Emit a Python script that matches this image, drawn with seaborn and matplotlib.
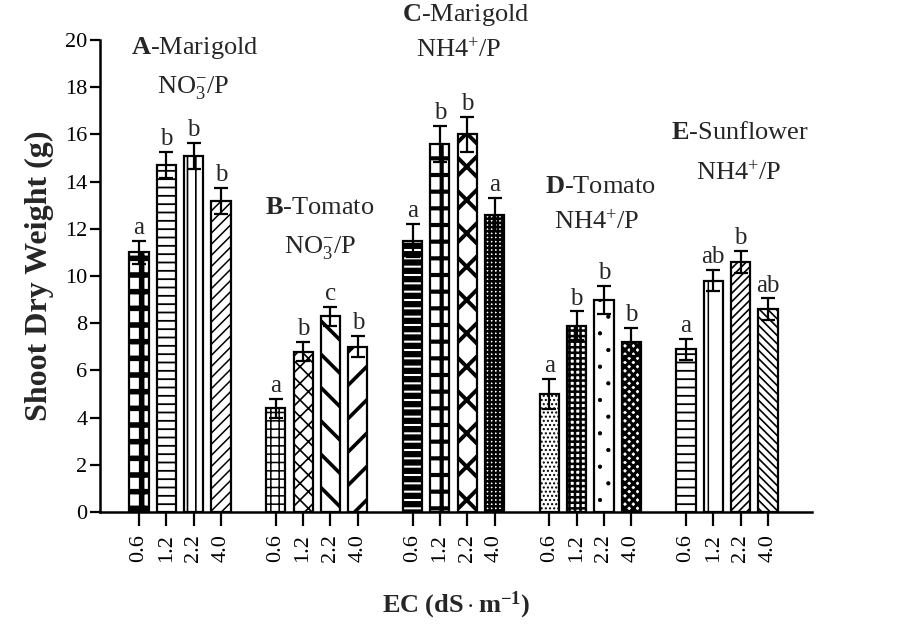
import numpy as np
import pandas as pd
import matplotlib
matplotlib.use("Agg")
import matplotlib.pyplot as plt
import seaborn as sns

# Values
ec_levels = ["0.6", "1.2", "2.2", "4.0"]
groups = ["A", "B", "C", "D", "E"]

a_mean = [11.0, 14.7, 15.1, 13.2]
a_err = [0.5, 0.55, 0.55, 0.55]
b_mean = [4.4, 6.8, 8.3, 7.0]
b_err = [0.4, 0.4, 0.4, 0.45]
c_mean = [11.5, 15.6, 16.0, 12.6]
c_err = [0.7, 0.75, 0.75, 0.7]
d_mean = [5.0, 7.9, 9.0, 7.2]
d_err = [0.65, 0.6, 0.6, 0.6]
e_mean = [6.9, 9.8, 10.6, 8.6]
e_err = [0.45, 0.45, 0.45, 0.45]

a_let = ["a", "b", "b", "b"]
b_let = ["a", "b", "c", "b"]
c_let = ["a", "b", "b", "a"]
d_let = ["a", "b", "b", "b"]
e_let = ["a", "ab", "b", "ab"]

titles = [r"$\mathbf{A}$-Marigold", r"$\mathbf{B}$-Tomato", r"$\mathbf{C}$-Marigold",
          r"$\mathbf{D}$-Tomato", r"$\mathbf{E}$-Sunflower"]
subtitles = [r"NO$_3^{-}$/P", r"NO$_3^{-}$/P", r"NH4$^{+}$/P", r"NH4$^{+}$/P", r"NH4$^{+}$/P"]

means = [a_mean, b_mean, c_mean, d_mean, e_mean]
errs = [a_err, b_err, c_err, d_err, e_err]
letters = [a_let, b_let, c_let, d_let, e_let]

rows = []
for g, (m, e, l) in enumerate(zip(means, errs, letters)):
    for k in range(4):
        rows.append({"group": groups[g], "ec": ec_levels[k], "pos": g * 5 + k,
                     "weight": m[k], "err": e[k], "letter": l[k]})
data = pd.DataFrame(rows)

sns.set_style("ticks")
plt.rcParams["font.family"] = ["Liberation Serif", "DejaVu Serif"]
plt.rcParams["mathtext.fontset"] = "custom"
plt.rcParams["mathtext.rm"] = "Liberation Serif"
plt.rcParams["mathtext.it"] = "Liberation Serif:italic"
plt.rcParams["mathtext.bf"] = "Liberation Serif:bold"
plt.rcParams["hatch.color"] = "black"

fig = plt.figure(figsize=(9, 6.26), dpi=100)
ax = fig.add_axes([0.111, 0.182, 0.791, 0.754])

sns.barplot(data=data, x="pos", y="weight", native_scale=True, width=0.7,
            color="white", edgecolor="black", linewidth=1.6, errorbar=None, ax=ax)

# hatch pattern and hatch line width for each bar
hatches = [("+", 4.0), ("--", 1.3), ("||", 1.2), ("///", 1.1),
           ("++", 1.1), ("xx", 1.2), ("\\", 2.6), ("/", 2.6),
           ("--", 4.5), ("+", 3.0), ("x", 2.8), ("++++", 1.8),
           ("....", 1.0), ("+++", 1.8), (".", 0.6), ("xxxx", 2.2),
           ("--", 1.3), ("|", 1.1), ("////", 1.2), ("\\\\\\\\", 1.2)]
for patch, (h, lw) in zip(ax.patches, hatches):
    patch.set_facecolor("white")
    patch.set_hatch(h)
    if hasattr(patch, "set_hatch_linewidth"):
        patch.set_hatch_linewidth(lw)

ax.errorbar(data["pos"], data["weight"], yerr=data["err"], fmt="none",
            ecolor="black", elinewidth=1.6, capsize=5, capthick=1.6, zorder=5)

for _, r in data.iterrows():
    ax.text(r["pos"], r["weight"] + r["err"] + 0.08, r["letter"],
            ha="center", va="bottom", fontsize=18)

# group captions: (x, y) of the name line and of the nutrient line
title_xy = [(2.05, 19.66), (6.62, 12.88), (11.96, 21.06), (16.86, 13.77), (21.97, 16.06)]
sub_xy = [(1.97, 17.97), (6.62, 11.19), (11.7, 19.58), (16.75, 12.29), (21.94, 14.36)]
for g in range(5):
    ax.text(*title_xy[g], titles[g], ha="center", va="center", fontsize=19, clip_on=False)
    ax.text(*sub_xy[g], subtitles[g], ha="center", va="center", fontsize=19, clip_on=False)

ax.set_xlim(-1.43, 24.6)
ax.set_ylim(0, 20)
ax.set_yticks(np.arange(0, 21, 2))
ax.set_yticklabels([str(v) for v in range(0, 21, 2)], fontsize=16)
ax.set_xticks(data["pos"])
ax.set_xticklabels(data["ec"], rotation=90, fontsize=16)
ax.tick_params(axis="both", direction="out", width=1.6, color="black", labelcolor="black")
ax.tick_params(axis="y", length=7, pad=2)
ax.tick_params(axis="x", length=10, pad=6)
for s in ["left", "bottom"]:
    ax.spines[s].set_linewidth(1.8)
    ax.spines[s].set_color("black")
sns.despine(ax=ax)

ax.set_xlabel(r"$\mathbf{EC\ (dS\cdot m^{-1})}$", fontsize=19, labelpad=20)
ax.set_ylabel("Shoot Dry Weight (g)", fontsize=23, fontweight="bold", labelpad=8)

fig.savefig("out.png", dpi=100)
